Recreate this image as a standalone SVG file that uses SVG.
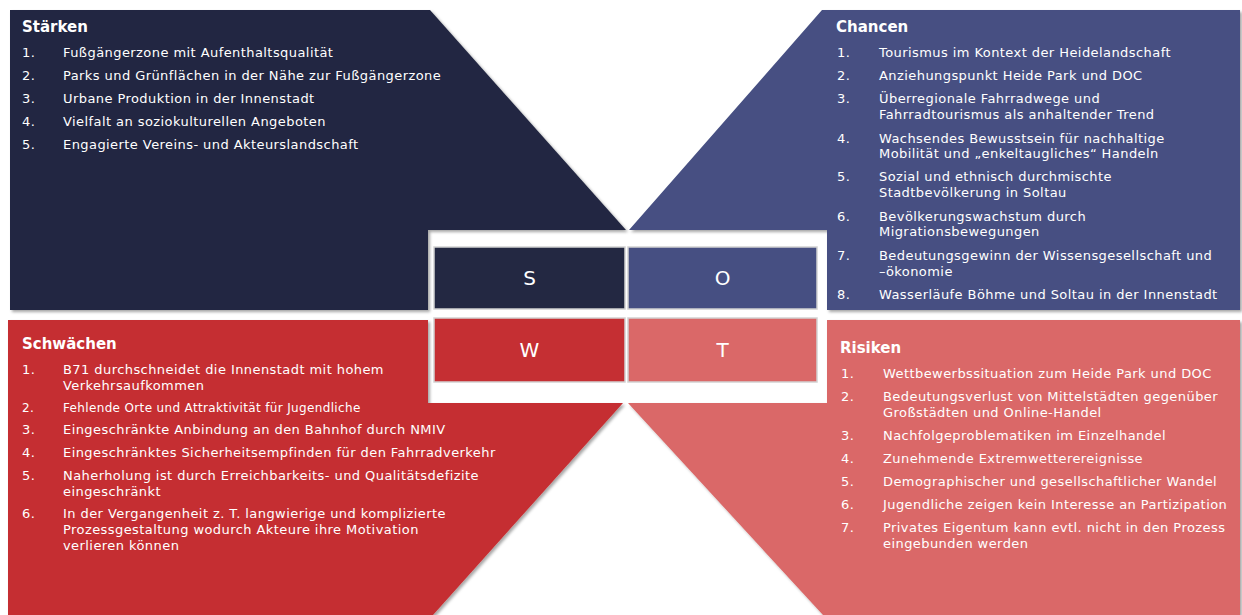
<svg xmlns="http://www.w3.org/2000/svg" width="1242" height="615" viewBox="0 0 1242 615">
  <defs>
    <filter id="sh" x="-5%" y="-5%" width="110%" height="110%">
      <feDropShadow dx="2" dy="2" stdDeviation="1.8" flood-color="#000" flood-opacity="0.35"/>
    </filter>
    <style>
      .t { font-family: "DejaVu Sans", "Liberation Sans", sans-serif; font-size: 13px; fill: #ffffff; letter-spacing: 0.43px; }
      .sm { font-size: 12px; letter-spacing: 0.35px; }
      .h { font-family: "DejaVu Sans", "Liberation Sans", sans-serif; font-size: 15px; font-weight: bold; fill: #ffffff; }
      .L { font-family: "DejaVu Sans", "Liberation Sans", sans-serif; font-size: 20px; fill: #ffffff; text-anchor: middle; }
      .box { stroke: #d2d2d2; stroke-width: 1.5; }
      .navy { fill: #232842; }
      .blue { fill: #464f82; }
      .red { fill: #c52f33; }
      .pink { fill: #da6868; }
    </style>
  </defs>
  <rect width="1242" height="615" fill="#ffffff"/>

  <g id="staerken">
    <path class="navy" filter="url(#sh)" d="M10,10 L430,10 L626,230 L428,230 L428,310 L10,310 Z"/>
    <text class="h" x="22" y="32">Stärken</text>
    <text class="t" x="22" y="57">1.</text><text class="t" x="63" y="57">Fußgängerzone mit Aufenthaltsqualität</text>
    <text class="t" x="22" y="80">2.</text><text class="t" x="63" y="80">Parks und Grünflächen in der Nähe zur Fußgängerzone</text>
    <text class="t" x="22" y="103">3.</text><text class="t" x="63" y="103">Urbane Produktion in der Innenstadt</text>
    <text class="t" x="22" y="126">4.</text><text class="t" x="63" y="126">Vielfalt an soziokulturellen Angeboten</text>
    <text class="t" x="22" y="149">5.</text><text class="t" x="63" y="149">Engagierte Vereins- und Akteurslandschaft</text>
  </g>

  <g id="chancen">
    <path class="blue" filter="url(#sh)" d="M822,10 L1240,10 L1240,310 L827,310 L827,230 L629,230 Z"/>
    <text class="h" x="836" y="32">Chancen</text>
    <text class="t" x="837" y="57">1.</text><text class="t" x="879" y="57">Tourismus im Kontext der Heidelandschaft</text>
    <text class="t" x="837" y="80">2.</text><text class="t" x="879" y="80">Anziehungspunkt Heide Park und DOC</text>
    <text class="t" x="837" y="103">3.</text><text class="t" x="879" y="103">Überregionale Fahrradwege und</text>
    <text class="t" x="879" y="119">Fahrradtourismus als anhaltender Trend</text>
    <text class="t" x="837" y="143">4.</text><text class="t" x="879" y="143">Wachsendes Bewusstsein für nachhaltige</text>
    <text class="t" x="879" y="158">Mobilität und „enkeltaugliches“ Handeln</text>
    <text class="t" x="837" y="181">5.</text><text class="t" x="879" y="181">Sozial und ethnisch durchmischte</text>
    <text class="t" x="879" y="197">Stadtbevölkerung in Soltau</text>
    <text class="t" x="837" y="221">6.</text><text class="t" x="879" y="221">Bevölkerungswachstum durch</text>
    <text class="t" x="879" y="236">Migrationsbewegungen</text>
    <text class="t" x="837" y="260">7.</text><text class="t" x="879" y="260">Bedeutungsgewinn der Wissensgesellschaft und</text>
    <text class="t" x="879" y="276">–ökonomie</text>
    <text class="t" x="837" y="299">8.</text><text class="t" x="879" y="299">Wasserläufe Böhme und Soltau in der Innenstadt</text>
  </g>

  <g id="schwaechen">
    <path class="red" filter="url(#sh)" d="M8,320 L428,320 L428,403 L623,403 L433,615 L8,615 Z"/>
    <text class="h" x="22" y="349">Schwächen</text>
    <text class="t" x="22" y="374">1.</text><text class="t" x="63" y="374">B71 durchschneidet die Innenstadt mit hohem</text>
    <text class="t" x="63" y="390">Verkehrsaufkommen</text>
    <text class="t sm" x="22" y="412">2.</text><text class="t sm" x="63" y="412">Fehlende Orte und Attraktivität für Jugendliche</text>
    <text class="t" x="22" y="434">3.</text><text class="t" x="63" y="434">Eingeschränkte Anbindung an den Bahnhof durch NMIV</text>
    <text class="t" x="22" y="457">4.</text><text class="t" x="63" y="457">Eingeschränktes Sicherheitsempfinden für den Fahrradverkehr</text>
    <text class="t" x="22" y="480">5.</text><text class="t" x="63" y="480">Naherholung ist durch Erreichbarkeits- und Qualitätsdefizite</text>
    <text class="t" x="63" y="496">eingeschränkt</text>
    <text class="t" x="22" y="518">6.</text><text class="t" x="63" y="518">In der Vergangenheit z. T. langwierige und komplizierte</text>
    <text class="t" x="63" y="534">Prozessgestaltung wodurch Akteure ihre Motivation</text>
    <text class="t" x="63" y="550">verlieren können</text>
  </g>

  <g id="risiken">
    <path class="pink" filter="url(#sh)" d="M827,320 L1240,320 L1240,615 L823,615 L628,403 L827,403 Z"/>
    <text class="h" x="840" y="353">Risiken</text>
    <text class="t" x="841" y="378">1.</text><text class="t" x="883" y="378">Wettbewerbssituation zum Heide Park und DOC</text>
    <text class="t" x="841" y="401">2.</text><text class="t" x="883" y="401">Bedeutungsverlust von Mittelstädten gegenüber</text>
    <text class="t" x="883" y="417">Großstädten und Online-Handel</text>
    <text class="t" x="841" y="440">3.</text><text class="t" x="883" y="440">Nachfolgeproblematiken im Einzelhandel</text>
    <text class="t" x="841" y="463">4.</text><text class="t" x="883" y="463">Zunehmende Extremwetterereignisse</text>
    <text class="t" x="841" y="486">5.</text><text class="t" x="883" y="486">Demographischer und gesellschaftlicher Wandel</text>
    <text class="t" x="841" y="509">6.</text><text class="t" x="883" y="509">Jugendliche zeigen kein Interesse an Partizipation</text>
    <text class="t" x="841" y="532">7.</text><text class="t" x="883" y="532">Privates Eigentum kann evtl. nicht in den Prozess</text>
    <text class="t" x="883" y="548">eingebunden werden</text>
  </g>

  <g id="box-s">
    <rect class="box navy" x="434" y="247" width="191" height="62"/>
    <text class="L" x="529.5" y="285">S</text>
  </g>
  <g id="box-o">
    <rect class="box blue" x="628" y="247" width="189" height="62"/>
    <text class="L" x="722.5" y="285">O</text>
  </g>
  <g id="box-w">
    <rect class="box red" x="434" y="318" width="191" height="64"/>
    <text class="L" x="529.5" y="357">W</text>
  </g>
  <g id="box-t">
    <rect class="box pink" x="628" y="318" width="189" height="64"/>
    <text class="L" x="722.5" y="357">T</text>
  </g>
</svg>
